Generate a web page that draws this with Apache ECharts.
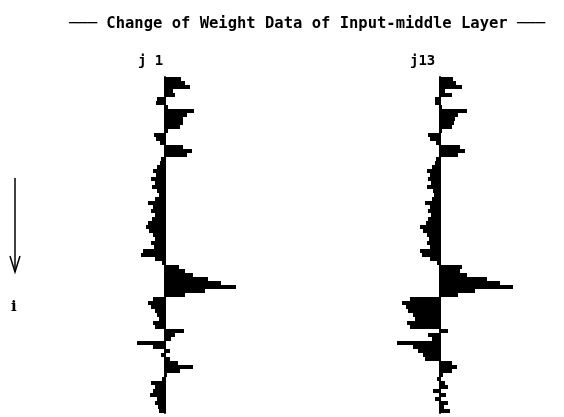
<!DOCTYPE html>
<html>
<head>
<meta charset="utf-8">
<script src="https://cdn.jsdelivr.net/npm/echarts@6/dist/echarts.min.js"></script>
<style>html,body{margin:0;padding:0;background:#fff;}#c{width:564px;height:417px;}</style>
</head>
<body>
<div id="c"></div>
<script>
// Input unit index i (top to bottom)
const rows = Array.from({length: 84}, (_, k) => String(k + 1));
const panelLabels = ['j 1', 'j13'];
// Weight change for middle unit j1
const j1 = [16, 20, 25, 8, 10, -8, -9, 3, 29, 22, 18, 18, 15, 3, -11, -9, -5, 18, 27, 22,
  -4, -5, -8, -12, -9, -14, -10, -13, -8, -6, -10, -17, -12, -14, -10, -13, -17, -19, -16, -12,
  -10, -14, -11, -22, -24, -10, -3, 14, 20, 28, 43, 56, 71, 40, 20, -12, -17, -14, -10, -8,
  -6, -12, -10, 19, 10, 6, -28, -12, 5, -4, 5, 13, 28, 15, 2, -3, -14, -10, -12, -15,
  -8, -10, -7, -6];
// Weight change for middle unit j13
const j13 = [13, 16, 22, 5, 12, -5, -5, 2, 27, 18, 15, 14, 12, 2, -12, -10, -4, 20, 25, 18,
  -4, -5, -8, -13, -10, -12, -9, -13, -7, -6, -8, -15, -10, -12, -9, -12, -14, -20, -17, -13,
  -11, -13, -10, -20, -18, -10, -3, 22, 20, 27, 47, 60, 73, 35, 18, -30, -38, -34, -32, -27,
  -25, -33, -30, 8, -12, -8, -43, -27, -22, -17, -15, 12, 17, 12, 3, -3, 5, 8, -7, 6,
  -5, 8, 4, 10];

const chart = echarts.init(document.getElementById('c'), null, {renderer: 'canvas'});
const font = 'DejaVu Sans Mono';
function grid(left) { return {left: left, top: 77, width: 120, height: 336}; }
function xa(g) { return {type: 'value', gridIndex: g, min: -45, max: 75, show: false}; }
function ya(g) {
  return {type: 'category', gridIndex: g, data: rows, inverse: true,
    axisLine: {show: true, onZero: true, lineStyle: {color: '#000', width: 2}},
    axisTick: {show: false}, axisLabel: {show: false}, splitLine: {show: false}};
}
function ser(g, d) {
  return {type: 'bar', xAxisIndex: g, yAxisIndex: g, data: d, barCategoryGap: '0%',
    itemStyle: {color: '#000'}, silent: true, animation: false};
}
chart.setOption({
  backgroundColor: '#fff',
  animation: false,
  title: {text: '─── Change of Weight Data of Input-middle Layer ───', left: 302, textAlign: 'center', top: 11,
    textStyle: {fontFamily: font, fontWeight: 'bold', fontSize: 15.5, color: '#000'}},
  grid: [grid(120), grid(395)],
  xAxis: [xa(0), xa(1)],
  yAxis: [ya(0), ya(1)],
  series: [ser(0, j1), ser(1, j13)],
  graphic: [
    {type: 'text', left: 138, top: 54, style: {text: panelLabels[0], font: 'bold 14px "DejaVu Sans Mono"', fill: '#000'}},
    {type: 'text', left: 410, top: 54, style: {text: panelLabels[1], font: 'bold 14px "DejaVu Sans Mono"', fill: '#000'}},
    {type: 'line', shape: {x1: 15, y1: 178, x2: 15, y2: 272}, style: {stroke: '#000', lineWidth: 1.5}},
    {type: 'polyline', shape: {points: [[10, 256], [15, 272], [20, 256]]}, style: {stroke: '#000', lineWidth: 1.5, fill: null}},
    {type: 'text', left: 11, top: 300, style: {text: 'i', font: 'bold 15px "DejaVu Serif"', fill: '#000'}}
  ]
});
</script>
</body>
</html>
